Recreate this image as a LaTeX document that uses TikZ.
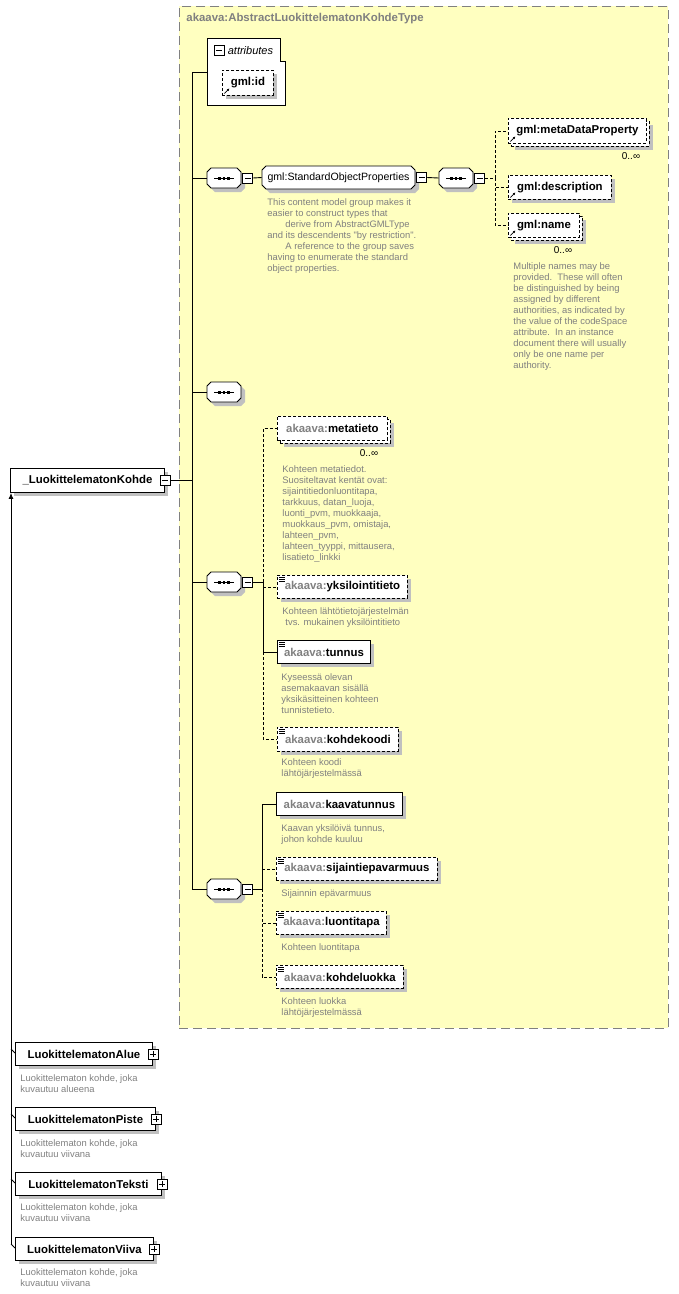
\documentclass[tikz,border=0pt]{standalone}
\usepackage{fontspec}
\setmainfont{Liberation Sans}
\usetikzlibrary{arrows.meta,shadows}
\definecolor{typefill}{RGB}{255,255,192}
\definecolor{txtgray}{RGB}{128,128,128}
\definecolor{shadowgray}{RGB}{192,192,192}
\newcommand{\akpre}{\textcolor{txtgray}{akaava:}}
% octagon outline round the origin: width, height
\newcommand{\octpath}[2]{(-#1/2+4,-#2/2) -- (#1/2-4,-#2/2) -- (#1/2,-#2/2+4) -- (#1/2,#2/2-4)
    -- (#1/2-4,#2/2) -- (-#1/2+4,#2/2) -- (-#1/2,#2/2-4) -- (-#1/2,-#2/2+4) -- cycle}
% octagon with shadow: centre x, centre y, width, height
\newcommand{\octagon}[4]{%
    \fill[shadowgray, shift={(#1+4,#2+4)}] \octpath{#3}{#4};
    \draw[fill=white, shift={(#1,#2)}] \octpath{#3}{#4};}

\begin{document}
\begin{tikzpicture}[
    x=1pt, y=-1pt, line width=0.9pt,
    boxshadow/.style={general shadow={fill=shadowgray, shadow xshift=4pt, shadow yshift=-4pt}},
    multi/.style={general shadow={fill=shadowgray, shadow xshift=7pt, shadow yshift=-7pt},
        general shadow={draw=black, fill=white, dash pattern=on 3pt off 2pt, shadow xshift=3pt, shadow yshift=-3pt}},
    elem/.style={draw, fill=white, anchor=north west, minimum height=23pt, inner sep=0pt,
        font=\bfseries\fontsize{11.4}{13}\selectfont},
    opt/.style={elem, dash pattern=on 3pt off 2pt},
    dashline/.style={dash pattern=on 3pt off 2pt},
    listicon/.style={path picture={\foreach \d in {2,4,6}
        \draw[solid, line width=0.6pt] ([shift={(2pt,-\d pt)}]path picture bounding box.north west) -- ++(6pt,0pt);}},
    reficon/.style={path picture={\draw[solid, line width=0.8pt, -{Latex[length=2.5pt,width=2.5pt]}]
        ([shift={(2pt,2pt)}]path picture bounding box.south west) -- ++(5pt,5pt);}},
    minusbox/.style={draw, fill=white, minimum size=10pt, inner sep=0pt, line width=0.8pt,
        path picture={\draw ([xshift=2pt]path picture bounding box.west) -- ([xshift=-2pt]path picture bounding box.east);}},
    plusbox/.style={minusbox,
        path picture={\draw ([xshift=2pt]path picture bounding box.west) -- ([xshift=-2pt]path picture bounding box.east);
                      \draw ([yshift=-2pt]path picture bounding box.north) -- ([yshift=2pt]path picture bounding box.south);}},
    seq/.style={minimum width=34pt, minimum height=20pt, inner sep=0pt,
        path picture={\draw ([xshift=-10pt]path picture bounding box.center) -- ([xshift=10pt]path picture bounding box.center);
            \foreach \dx in {-4.2,0,4.2}
                \fill ([xshift=\dx pt]path picture bounding box.center) +(-1.4pt,-1.5pt) rectangle +(1.4pt,1.5pt);}},
    grp/.style={inner sep=0pt, font=\fontsize{10.6}{12}\selectfont},
    desc/.style={anchor=north west, inner sep=0pt, align=left, text=txtgray, font=\fontsize{9.4}{11}\selectfont},
    card/.style={inner sep=0pt, font=\fontsize{10}{12}\selectfont}
    ]
    \useasboundingbox (0,0) rectangle (678,1294);

    % complex type
    \node[draw=txtgray, dash pattern=on 9pt off 5pt, fill=typefill, anchor=north west,
        minimum width=489pt, minimum height=1022pt, inner sep=0pt] (ctype) at (179,6) {};
    \node[anchor=west, inner sep=0pt, text=txtgray, font=\bfseries\fontsize{11.4}{13}\selectfont] (ctitle)
        at (186,19) {akaava:AbstractLuokittelematonKohdeType};

    % attributes
    \node[anchor=north west, minimum width=78pt, minimum height=67pt, inner sep=0pt] (attr) at (207,38) {};
    \draw[fill=white] (attr.south west) |- ([xshift=-5pt]attr.north east) -- ++(0,23) -| (attr.south east) -- cycle;
    \node[minusbox] (attrm) at (219,50.5) {};
    \node[anchor=west, inner sep=0pt, font=\itshape\fontsize{11}{12}\selectfont] (attrlbl) at ([xshift=3pt]attrm.east) {attributes};
    \node[opt, reficon, boxshadow, minimum width=51pt, minimum height=25pt] (gmlid) at (222,70) {gml:id};

    % sequences and group
    \octagon{224}{178}{34}{20}
    \node[seq] (s1) at (224,178) {};
    \node[minusbox, anchor=west] (s1m) at ([xshift=1pt]s1.east) {};
    \octagon{338.5}{177.5}{153}{23}
    \node[grp, minimum width=153pt, minimum height=23pt] (sop) at (338.5,177.5) {gml:StandardObjectProperties};
    \node[minusbox, anchor=west] (sopm) at ([xshift=1pt]sop.east) {};
    \octagon{456}{178}{34}{20}
    \node[seq] (s1b) at (456,178) {};
    \node[minusbox, anchor=west] (s1bm) at ([xshift=1pt]s1b.east) {};
    \octagon{224}{392}{34}{20}
    \node[seq] (s2) at (224,392) {};
    \octagon{224}{582}{34}{20}
    \node[seq] (s3) at (224,582) {};
    \node[minusbox, anchor=west] (s3m) at ([xshift=1pt]s3.east) {};
    \octagon{224}{889}{34}{20}
    \node[seq] (s4) at (224,889) {};
    \node[minusbox, anchor=west] (s4m) at ([xshift=1pt]s4.east) {};

    % gml elements
    \node[opt, multi, reficon, minimum width=138pt, minimum height=25pt] (mdp) at (508,118) {gml:metaDataProperty};
    \node[card] (mdpc) at (631,156) {0..∞};
    \node[opt, boxshadow, reficon, minimum width=103pt, minimum height=24pt] (gdesc) at (508,175) {gml:description};
    \node[opt, multi, reficon, minimum width=71pt, minimum height=24pt] (gname) at (508,213) {gml:name};
    \node[card] (gnamec) at (563,250) {0..∞};
    \node[desc] (sopd) at (267,198) {This content model group makes it\\easier to construct types that\\
        \hspace*{18pt}derive from AbstractGMLType\\and its descendents \textquotedbl by restriction\textquotedbl.\\
        \hspace*{18pt}A reference to the group saves\\having to enumerate the standard\\object properties.};
    \node[desc] (gnamed) at (513,262) {Multiple names may be\\provided.\ \ These will often\\be distinguished by being\\
        assigned by different\\authorities, as indicated by\\the value of the codeSpace\\attribute.\ \ In an instance\\
        document there will usually\\only be one name per\\authority.};

    % akaava elements
    \node[opt, multi, minimum width=110pt, minimum height=24pt] (meta) at (277,416) {\akpre metatieto};
    \node[card] (metac) at (369,453) {0..∞};
    \node[desc] (metad) at (282,465) {Kohteen metatiedot.\\Suositeltavat kentät ovat:\\sijaintitiedonluontitapa,\\
        tarkkuus, datan\_luoja,\\luonti\_pvm, muokkaaja,\\muokkaus\_pvm, omistaja,\\lahteen\_pvm,\\
        lahteen\_tyyppi, mittausera,\\lisatieto\_linkki};
    \node[opt, listicon, boxshadow, minimum width=130pt] (yks) at (277,575) {\akpre yksilointitieto};
    \node[desc] (yksd) at (282,607) {Kohteen lähtötietojärjestelmän\\\hspace*{3pt}tvs. mukainen yksilöintitieto};
    \node[elem, listicon, boxshadow, minimum width=93pt] (tunnus) at (277,640) {\akpre tunnus};
    \node[desc] (tunnusd) at (281,673) {Kyseessä olevan\\asemakaavan sisällä\\yksikäsitteinen kohteen\\tunnistetieto.};
    \node[opt, listicon, boxshadow, minimum width=121pt, minimum height=24pt] (kkoodi) at (277,727) {\akpre kohdekoodi};
    \node[desc] (kkoodid) at (281,758) {Kohteen koodi\\lähtöjärjestelmässä};
    \node[elem, boxshadow, minimum width=126pt] (kaava) at (276,792) {\akpre kaavatunnus};
    \node[desc] (kaavad) at (281,824) {Kaavan yksilöivä tunnus,\\johon kohde kuuluu};
    \node[opt, listicon, boxshadow, minimum width=161pt] (sij) at (276,857) {\akpre sijaintiepavarmuus};
    \node[desc] (sijd) at (281,889) {Sijainnin epävarmuus};
    \node[opt, listicon, boxshadow, minimum width=110pt] (luon) at (276,911) {\akpre luontitapa};
    \node[desc] (luond) at (281,943) {Kohteen luontitapa};
    \node[opt, listicon, boxshadow, minimum width=127pt] (luokka) at (276,965) {\akpre kohdeluokka};
    \node[desc] (luokkad) at (281,997) {Kohteen luokka\\lähtöjärjestelmässä};

    % abstract element and its substitutes
    \node[elem, boxshadow, minimum width=154pt, minimum height=24pt] (kohde) at (10,468) {\_LuokittelematonKohde};
    \node[minusbox] (kohdem) at (kohde.east) {};
    \node[elem, boxshadow, minimum width=137pt] (alue) at (15,1042) {LuokittelematonAlue};
    \node[plusbox] (aluep) at (alue.east) {};
    \node[desc] (alued) at (20,1074) {Luokittelematon kohde, joka\\kuvautuu alueena};
    \node[elem, boxshadow, minimum width=140pt] (piste) at (15,1107) {LuokittelematonPiste};
    \node[plusbox] (pistep) at (piste.east) {};
    \node[desc] (pisted) at (20,1139) {Luokittelematon kohde, joka\\kuvautuu viivana};
    \node[elem, boxshadow, minimum width=146pt] (teksti) at (15,1172) {LuokittelematonTeksti};
    \node[plusbox] (tekstip) at (teksti.east) {};
    \node[desc] (tekstid) at (20,1203) {Luokittelematon kohde, joka\\kuvautuu viivana};
    \node[elem, boxshadow, minimum width=138pt] (viiva) at (15,1237) {LuokittelematonViiva};
    \node[plusbox] (viivap) at (viiva.east) {};
    \node[desc] (viivad) at (20,1268) {Luokittelematon kohde, joka\\kuvautuu viivana};

    % connectors
    \coordinate (trtop) at (192,72);
    \coordinate (trbot) at (192,889);
    \draw (trtop) -- (trbot);
    \draw (trtop) -- (attr.west |- trtop);
    \draw (kohdem.east) -- (kohdem.east -| trtop);
    \foreach \s in {s1,s2,s3,s4}
        \draw (\s.west -| trtop) -- (\s.west);
    \draw (s1m.east) -- (sop.west);
    \draw (sopm.east) -- (s1b.west);
    \draw[dashline] (s1bm.east) -- ++(10,0) coordinate (b1);
    \draw[dashline] (b1) |- (mdp.west);
    \draw[dashline] (b1) |- (gdesc.west);
    \draw[dashline] (b1) |- (gname.west);
    \draw (s3m.east) -- ++(10,0) coordinate (b3);
    \draw[dashline] (b3) |- (meta.west);
    \draw[dashline] (b3) |- (yks.west);
    \draw (b3) |- (tunnus.west);
    \draw[dashline] (b3 |- tunnus.west) |- (kkoodi.west);
    \draw (s4m.east) -- ++(9,0) coordinate (b4);
    \draw (b4) |- (kaava.west);
    \draw[dashline] (b4) |- (sij.west);
    \draw[dashline] (b4) |- (luon.west);
    \draw[dashline] (b4) |- (luokka.west);
    \coordinate (lbot) at (11,1245);
    \draw[-{Latex[length=6pt,width=5pt]}] (lbot) -- (lbot |- kohde.south);
    \foreach \c in {alue,piste,teksti,viiva}
        \draw (lbot |- \c.north) ++(0,7) -- ++(4,4);
\end{tikzpicture}
\end{document}
